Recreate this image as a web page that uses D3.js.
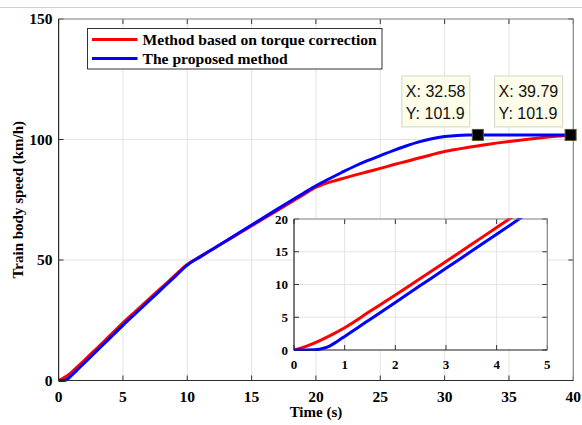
<!DOCTYPE html>
<html>
<head>
<meta charset="utf-8">
<script src="https://cdn.jsdelivr.net/npm/d3@7"></script>
<style>
  body { margin: 0; background: #fff; }
  svg { display: block; }
  .tick-label { font-family: "Liberation Serif", "Times New Roman", serif; font-weight: bold; }
</style>
</head>
<body>
<svg id="chart" width="582" height="425"></svg>
<script>
// series data: [time (s), speed (km/h)]
const redTimes = [0, 0.25, 0.5, 0.75, 1, 1.5, 2, 2.5, 3, 3.5, 4, 4.5, 5, 6, 7, 8, 9, 10, 11, 12, 13, 14, 15, 16, 17, 18, 19, 20, 20.5, 21, 22, 23, 24, 25, 26, 27, 28, 29, 30, 31, 32, 33, 34, 35, 36, 37, 38, 39, 39.79];
const redSpeed = [0, 0.6, 1.4, 2.35, 3.4, 5.9, 8.4, 10.95, 13.5, 16.1, 18.7, 21.3, 23.9, 28.8, 33.7, 38.5, 43.4, 48.2, 51.4, 54.6, 57.8, 61.0, 64.2, 67.4, 70.6, 73.8, 77.0, 80.2, 81.3, 82.2, 83.7, 85.2, 86.6, 88.0, 89.5, 90.9, 92.3, 93.7, 95.0, 96.0, 96.9, 97.7, 98.5, 99.2, 99.8, 100.4, 101.0, 101.5, 101.9];
const blueTimes = [0, 0.25, 0.4, 0.5, 0.6, 0.7, 0.8, 0.9, 1, 1.25, 1.5, 2, 2.5, 3, 3.5, 4, 4.5, 5, 6, 7, 8, 9, 10, 11, 12, 13, 14, 15, 16, 17, 18, 19, 20, 21, 22, 23, 24, 25, 26, 27, 28, 29, 30, 31, 32, 32.58, 36, 39.79];
const blueSpeed = [0, 0, 0.02, 0.1, 0.3, 0.6, 1.05, 1.55, 2.07, 3.37, 4.67, 7.27, 9.87, 12.47, 15.07, 17.67, 20.3, 22.9, 27.9, 32.9, 37.9, 42.9, 47.9, 51.3, 54.6, 57.9, 61.2, 64.5, 67.8, 71.1, 74.4, 77.6, 80.8, 83.6, 86.3, 88.9, 91.2, 93.3, 95.4, 97.3, 99.0, 100.3, 101.2, 101.7, 101.85, 101.9, 101.9, 101.9];

const seriesNames = ["Method based on torque correction", "The proposed method"];
const seriesColors = ["#ff0000", "#0000ff"];

const mainXTicks = [0, 5, 10, 15, 20, 25, 30, 35, 40];
const mainYTicks = [0, 50, 100, 150];
const insetXTicks = [0, 1, 2, 3, 4, 5];
const insetYTicks = [0, 5, 10, 15, 20];

// data tips: [time, speed]
const tipPoints = [[32.58, 101.9], [39.79, 101.9]];

const series = [
  redTimes.map((t, i) => [t, redSpeed[i]]),
  blueTimes.map((t, i) => [t, blueSpeed[i]])
];

const svg = d3.select('#chart');

// faint figure border line at the very top
svg.append('line').attr('x1', 0).attr('x2', 582).attr('y1', 7.5).attr('y2', 7.5)
  .attr('stroke', '#d0d0d0').attr('stroke-width', 1);

function drawAxes(g, x, y, xTicks, yTicks, fontSize, labelGap) {
  const [x0, x1] = x.range();
  const [y0, y1] = y.range();
  g.append('rect').attr('x', x0).attr('y', y1).attr('width', x1 - x0).attr('height', y0 - y1).attr('fill', '#fff');
  // grid
  g.selectAll('.gx').data(xTicks).join('line')
    .attr('x1', d => x(d)).attr('x2', d => x(d)).attr('y1', y0).attr('y2', y1)
    .attr('stroke', '#e3e3e3').attr('stroke-width', 1);
  g.selectAll('.gy').data(yTicks).join('line')
    .attr('y1', d => y(d)).attr('y2', d => y(d)).attr('x1', x0).attr('x2', x1)
    .attr('stroke', '#e3e3e3').attr('stroke-width', 1);
  // inner ticks on all four sides
  const tl = 5;
  g.selectAll('.tb').data(xTicks).join('line')
    .attr('x1', d => x(d)).attr('x2', d => x(d)).attr('y1', y0).attr('y2', y0 - tl).attr('stroke', '#333');
  g.selectAll('.tt').data(xTicks).join('line')
    .attr('x1', d => x(d)).attr('x2', d => x(d)).attr('y1', y1).attr('y2', y1 + tl).attr('stroke', '#333');
  g.selectAll('.tlft').data(yTicks).join('line')
    .attr('y1', d => y(d)).attr('y2', d => y(d)).attr('x1', x0).attr('x2', x0 + tl).attr('stroke', '#333');
  g.selectAll('.trgt').data(yTicks).join('line')
    .attr('y1', d => y(d)).attr('y2', d => y(d)).attr('x1', x1).attr('x2', x1 - tl).attr('stroke', '#333');
  // labels
  g.selectAll('.xl').data(xTicks).join('text').attr('class', 'tick-label')
    .attr('x', d => x(d)).attr('y', y0 + labelGap).attr('text-anchor', 'middle')
    .attr('font-size', fontSize).attr('fill', '#000').text(d => d);
  g.selectAll('.yl').data(yTicks).join('text').attr('class', 'tick-label')
    .attr('x', x0 - 6).attr('y', d => y(d)).attr('dy', '0.35em').attr('text-anchor', 'end')
    .attr('font-size', fontSize).attr('fill', '#000').text(d => d);
}

function drawFrame(g, x, y) {
  const [x0, x1] = x.range();
  const [y0, y1] = y.range();
  g.append('path').attr('d', `M${x0},${y1}H${x1}V${y0}`).attr('fill', 'none').attr('stroke', '#8a8a8a').attr('stroke-width', 1.2);
  g.append('path').attr('d', `M${x0},${y1}V${y0}H${x1}`).attr('fill', 'none').attr('stroke', '#2b2b2b').attr('stroke-width', 1.2);
}

// ---- main axes
const x = d3.scaleLinear().domain([0, 40]).range([58.6, 573.3]);
const y = d3.scaleLinear().domain([0, 150]).range([380.5, 19]);
const main = svg.append('g');
drawAxes(main, x, y, mainXTicks, mainYTicks, 15.5, 21);

const line = d3.line().x(d => x(d[0])).y(d => y(d[1])).curve(d3.curveMonotoneX);
main.selectAll('.series').data(series).join('path')
  .attr('d', line).attr('fill', 'none')
  .attr('stroke', (_, i) => seriesColors[i]).attr('stroke-width', 3)
  .attr('stroke-linejoin', 'round');
drawFrame(main, x, y);

// axis titles
svg.append('text').attr('class', 'tick-label')
  .attr('x', (x.range()[0] + x.range()[1]) / 2).attr('y', 417)
  .attr('text-anchor', 'middle').attr('font-size', 15).text('Time (s)');
svg.append('text').attr('class', 'tick-label')
  .attr('transform', `translate(23, ${(y.range()[0] + y.range()[1]) / 2}) rotate(-90)`)
  .attr('text-anchor', 'middle').attr('font-size', 15).text('Train body speed (km/h)');

// ---- legend
const legend = svg.append('g').attr('transform', 'translate(87.5, 28.5)');
legend.append('rect').attr('width', 294.5).attr('height', 40.5)
  .attr('fill', '#fff').attr('stroke', '#333').attr('stroke-width', 1);
seriesNames.forEach((name, i) => {
  const ly = 11 + i * 19;
  legend.append('line').attr('x1', 4.5).attr('x2', 50).attr('y1', ly).attr('y2', ly)
    .attr('stroke', seriesColors[i]).attr('stroke-width', 3);
  legend.append('text').attr('class', 'tick-label').attr('x', 55).attr('y', ly).attr('dy', '0.35em')
    .attr('font-size', 15.6).attr('fill', '#000').text(name);
});

// ---- data tips
const tipW = 68, tipH = 51;
tipPoints.forEach(p => {
  const px = x(p[0]), py = y(p[1]);
  const tip = svg.append('g').attr('transform', `translate(${px - 76}, ${py - 59})`);
  tip.append('rect').attr('width', tipW).attr('height', tipH)
    .attr('fill', '#fdfde9').attr('stroke', '#d6d6c8').attr('stroke-width', 1);
  tip.append('text').attr('x', 4).attr('y', 21).attr('font-family', '"Liberation Sans", Arial, sans-serif')
    .attr('font-size', 16).attr('fill', '#111').text('X: ' + p[0].toFixed(2));
  tip.append('text').attr('x', 4).attr('y', 43).attr('font-family', '"Liberation Sans", Arial, sans-serif')
    .attr('font-size', 16).attr('fill', '#111').text('Y: ' + p[1].toFixed(1));
  svg.append('rect').attr('x', px - 5.5).attr('y', py - 5.5).attr('width', 11).attr('height', 11)
    .attr('fill', '#000').attr('stroke', '#555530').attr('stroke-width', 1);
});

// ---- inset
const ix = d3.scaleLinear().domain([0, 5]).range([294, 547.3]);
const iy = d3.scaleLinear().domain([0, 20]).range([350, 219]);
const inset = svg.append('g');
drawAxes(inset, ix, iy, insetXTicks, insetYTicks, 13, 19);
const clip = svg.append('clipPath').attr('id', 'insetClip');
clip.append('rect').attr('x', ix.range()[0]).attr('y', iy.range()[1] - 1)
  .attr('width', ix.range()[1] - ix.range()[0]).attr('height', iy.range()[0] - iy.range()[1] + 2);
const iline = d3.line().x(d => ix(d[0])).y(d => iy(d[1])).curve(d3.curveMonotoneX);
inset.append('g').attr('clip-path', 'url(#insetClip)')
  .selectAll('path').data(series.map(s => s.filter(d => d[0] <= 6))).join('path')
  .attr('d', iline).attr('fill', 'none')
  .attr('stroke', (_, i) => seriesColors[i]).attr('stroke-width', 3);
drawFrame(inset, ix, iy);
</script>
</body>
</html>
